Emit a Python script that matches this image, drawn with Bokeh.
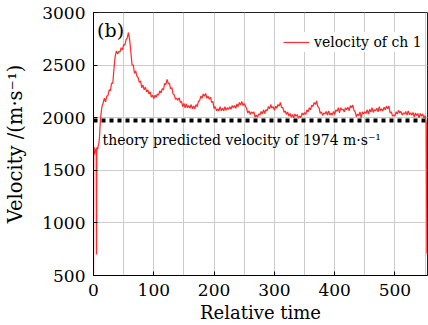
from bokeh.plotting import figure
from bokeh.models import FixedTicker, Range1d, Legend, LegendItem
from bokeh.core.properties import value
from bokeh.embed import file_html
from bokeh.resources import INLINE

# ---- data ----
time_start = [0, 0.3, 0.6, 1, 2, 3, 4, 4.6, 5, 5.4, 6, 7, 8, 9, 10, 11]
vel_start = [520, 1600, 1690, 1720, 1650, 1700, 1680, 1710, 700, 1690, 1720, 1700, 1740, 1760, 1820, 1930]

time_main = list(range(12, 553, 2))
vel_main = [
    2010, 2105, 2140, 2185, 2150, 2205, 2210, 2265, 2255, 2330,   # 12-30
    2325, 2470, 2585, 2635, 2605, 2630, 2625, 2665, 2645, 2695,   # 32-50
    2690, 2740, 2760, 2810, 2740, 2620, 2500, 2500, 2420, 2445,   # 52-70
    2395, 2380, 2335, 2350, 2285, 2310, 2265, 2290, 2245, 2265,   # 72-90
    2225, 2245, 2195, 2215, 2180, 2215, 2195, 2225, 2215, 2255,   # 92-110
    2235, 2275, 2265, 2325, 2315, 2365, 2325, 2325, 2275, 2285,   # 112-130
    2225, 2215, 2175, 2185, 2165, 2190, 2145, 2155, 2105, 2135,   # 132-150
    2095, 2130, 2095, 2115, 2090, 2125, 2085, 2110, 2085, 2125,   # 152-170
    2105, 2155, 2160, 2205, 2185, 2225, 2205, 2230, 2185, 2205,   # 172-190
    2175, 2195, 2145, 2155, 2085, 2105, 2065, 2085, 2065, 2105,   # 192-210
    2065, 2090, 2065, 2105, 2070, 2095, 2080, 2105, 2080, 2115,   # 212-230
    2095, 2115, 2090, 2130, 2105, 2145, 2120, 2155, 2115, 2135,   # 232-250
    2110, 2085, 2045, 2065, 2030, 2055, 2040, 2055, 2005, 2025,   # 252-270
    2005, 2035, 2025, 2060, 2035, 2075, 2040, 2075, 2065, 2105,   # 272-290
    2085, 2125, 2090, 2105, 2070, 2110, 2090, 2125, 2110, 2145,   # 292-310
    2095, 2095, 2050, 2065, 2030, 2055, 2015, 2040, 2005, 2030,   # 312-330
    1998, 2035, 2015, 2030, 1995, 2015, 2000, 2045, 2025, 2050,   # 332-350
    2030, 2075, 2055, 2095, 2075, 2120, 2105, 2145, 2125, 2160,   # 352-370
    2105, 2095, 2040, 2055, 2020, 2045, 2035, 2060, 2025, 2065,   # 372-390
    2025, 2045, 2025, 2060, 2030, 2075, 2060, 2095, 2045, 2095,   # 392-410
    2075, 2080, 2055, 2095, 2075, 2100, 2065, 2115, 2095, 2120,   # 412-430
    2070, 2055, 2010, 2035, 2020, 2055, 1998, 2055, 2035, 2055,   # 432-450
    2040, 2075, 2035, 2080, 2055, 2095, 2050, 2075, 2065, 2090,   # 452-470
    2055, 2105, 2065, 2085, 2065, 2100, 2075, 2110, 2085, 2110,   # 472-490
    2045, 2055, 2015, 2025, 2015, 2055, 2035, 2070, 2045, 2060,   # 492-510
    2025, 2045, 2035, 2060, 2025, 2065, 2030, 2045, 2025, 2050,   # 512-530
    2005, 2045, 2020, 2040, 1998, 2040, 2015, 2035, 2000, 2020,   # 532-550
    1950,                                                          # 552
]
time_end = [553, 554]
vel_end = [720, 700]

time = time_start + time_main + time_end
velocity = vel_start + vel_main + vel_end

theory_velocity = 1974
x_ticks = [0, 100, 200, 300, 400, 500]
x_minor = [50, 150, 250, 350, 450, 550]
y_ticks = [500, 1000, 1500, 2000, 2500, 3000]

SERIF = "DejaVu Serif"

p = figure(width=428, height=325, output_backend="svg", toolbar_location=None,
           x_range=Range1d(0, 554), y_range=Range1d(500, 3000),
           min_border_left=93, min_border_right=1, min_border_top=12, min_border_bottom=10)
p.background_fill_color = "white"
p.border_fill_color = "white"
p.outline_line_color = "#222222"
p.outline_line_width = 1

# axes
p.xaxis.ticker = FixedTicker(ticks=x_ticks, minor_ticks=x_minor)
p.yaxis.ticker = FixedTicker(ticks=y_ticks)
for ax in (p.xaxis[0], p.yaxis[0]):
    ax.major_tick_in = 4
    ax.major_tick_out = 0
    ax.minor_tick_line_color = None
    ax.axis_line_color = "black"
    ax.major_tick_line_color = "black"
    ax.major_label_text_font = SERIF
    ax.major_label_text_font_size = "17px"
    ax.major_label_text_color = "black"
    ax.axis_label_text_font = SERIF
    ax.axis_label_text_font_size = "18px"
    ax.axis_label_text_font_style = "normal"
    ax.axis_label_text_color = "black"
p.xaxis.axis_label = "Relative time"
p.yaxis.axis_label = "Velocity /(m·s⁻¹)"
p.yaxis.axis_label_text_font_size = "19.5px"
p.xaxis.major_label_standoff = 4
p.xaxis.axis_label_standoff = 3
p.yaxis.major_label_standoff = 8
p.yaxis.axis_label_standoff = 12

# grids
p.xgrid.grid_line_color = "#cccccc"
p.xgrid.minor_grid_line_color = "#cccccc"
p.ygrid.grid_line_color = "#cccccc"

# theory line
p.line(x=[0, 554], y=[theory_velocity, theory_velocity], line_color="black",
       line_width=4, line_dash="4 4")

# data
r = p.line(x=time, y=velocity, line_color="#ff2e2e", line_width=1.25)

p.text(x=[15], y=[1790], text=["theory predicted velocity of 1974 m·s⁻¹"],
       text_font=value(SERIF), text_font_size="14px", text_baseline="middle",
       text_color="black")
p.text(x=[6], y=[2830], text=["(b)"], text_font=value(SERIF),
       text_font_size="19px", text_baseline="middle", text_color="black")

legend = Legend(items=[LegendItem(label="velocity of ch 1", renderers=[r])],
                location=(190, 223))
legend.label_text_font = SERIF
legend.label_text_font_size = "14px"
legend.label_text_color = "black"
legend.border_line_color = None
legend.background_fill_color = "white"
legend.background_fill_alpha = 1
legend.glyph_width = 26
legend.label_standoff = 5
legend.margin = 0
legend.padding = 4
legend.spacing = 0
p.add_layout(legend)

open("out.html", "w").write(file_html(p, INLINE))
